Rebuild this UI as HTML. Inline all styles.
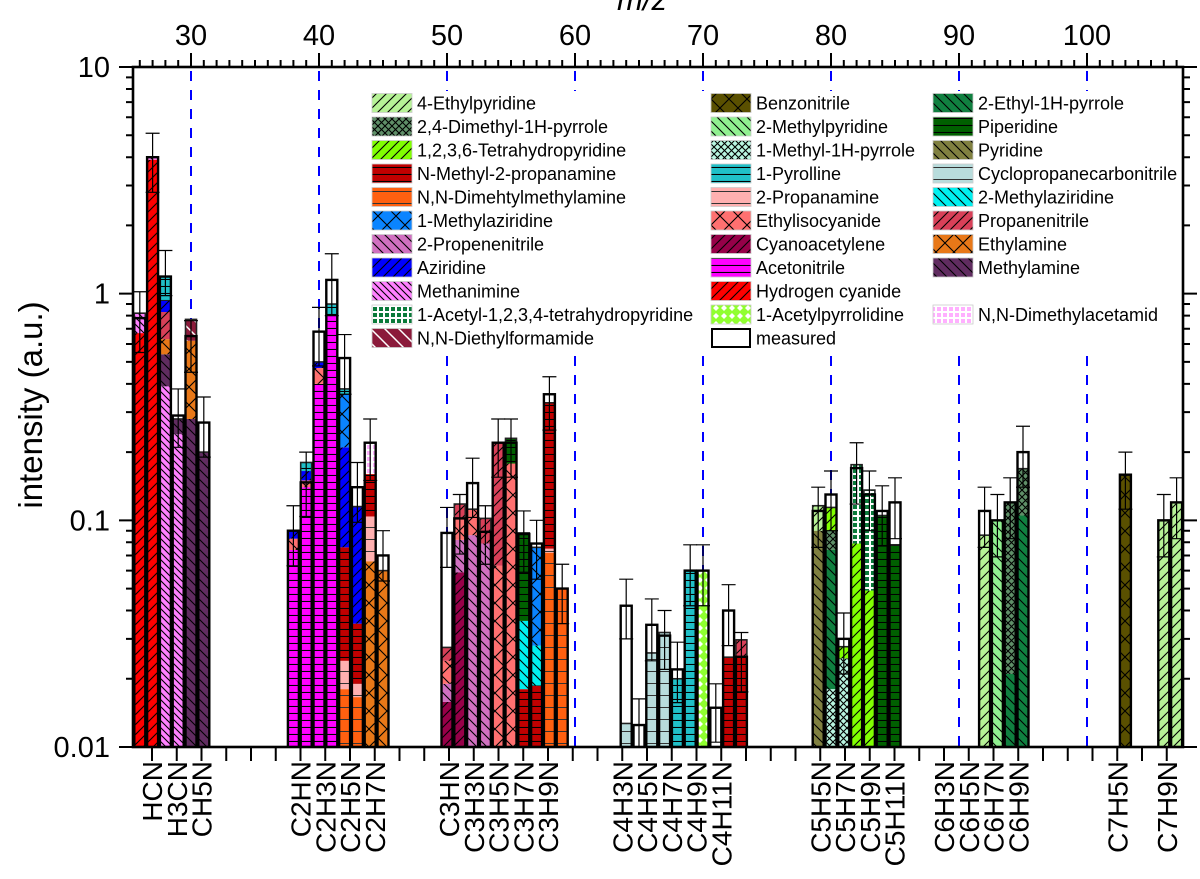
<!DOCTYPE html>
<html><head><meta charset="utf-8"><style>
html,body{margin:0;padding:0;background:#fff;}
svg{display:block;font-family:"Liberation Sans",Arial,sans-serif;}
</style></head><body>
<svg id="chart" width="1200" height="879" viewBox="0 0 1200 879" xmlns="http://www.w3.org/2000/svg">
<defs id="defs"></defs>
<g id="dashes"></g>
<g id="legend"></g>
<g id="bars"></g>
<g id="axes"></g>
</svg>
<script>
const NS="http://www.w3.org/2000/svg";
// ---- data ----
const components = ["ethpyr","dmp","thp","nm2p","ndmm","maz","pne","azi","mim","athp","def","bzn","mpy","mpyr","pyl","pna","eic","cya","acn","hcn","apy","epyr","pip","pyr","cpc","maz2","ppn","eta","mea","dma"];
const componentNames = ["4-Ethylpyridine","2,4-Dimethyl-1H-pyrrole","1,2,3,6-Tetrahydropyridine","N-Methyl-2-propanamine","N,N-Dimehtylmethylamine","1-Methylaziridine","2-Propenenitrile","Aziridine","Methanimine","1-Acetyl-1,2,3,4-tetrahydropyridine","N,N-Diethylformamide","Benzonitrile","2-Methylpyridine","1-Methyl-1H-pyrrole","1-Pyrolline","2-Propanamine","Ethylisocyanide","Cyanoacetylene","Acetonitrile","Hydrogen cyanide","1-Acetylpyrrolidine","2-Ethyl-1H-pyrrole","Piperidine","Pyridine","Cyclopropanecarbonitrile","2-Methylaziridine","Propanenitrile","Ethylamine","Methylamine","N,N-Dimethylacetamid"];
const componentColors = ["#b6f296","#5f8f68","#80ff00","#c00000","#ff6010","#0a84ff","#d070c0","#0000ff","#ff80ff","#ffffff","#8b1a3a","#5a5000","#90f090","#b8f5e0","#20c0c8","#ffb0b0","#ff7070","#960048","#ff00ff","#ff0000","#c8ff80","#108040","#006000","#808040","#b8dcdc","#00f0f0","#d84058","#e87818","#602c60","#ffffff"];
const componentPatterns = ["fwd","smallx","fwd","hl","hl1","X","back","fwd","backd","grid","backw","X","back","smallx","hl","hl1","X","fwd","hl","fwd","dots","back","hl","back","hl1","back","fwd","X","back","pgrid"];

const mz = [26,27,28,29,30,31,38,39,40,41,42,43,44,45,50,51,52,53,54,55,56,57,58,59,64,65,66,67,68,69,70,71,72,73,79,80,81,82,83,84,85,92,93,94,95,103,106,107];
const measured = [0.78,4.0,1.19,0.29,0.65,0.27,0.09,0.147,0.68,1.15,0.52,0.14,0.22,0.07,0.088,0.102,0.146,0.089,0.22,0.22,0.087,0.079,0.36,0.05,0.042,0.0125,0.0346,0.031,0.022,0.06,0.06,0.0149,0.04,0.025,0.11,0.13,0.03,0.17,0.13,0.11,0.12,0.11,0.1,0.12,0.2,0.159,0.1,0.12];
const errUpper = [1.02,5.1,1.55,0.38,0.76,0.35,0.116,0.2,0.87,1.5,0.66,0.18,0.28,0.09,0.114,0.13,0.188,0.116,0.28,0.28,0.11,0.1,0.43,0.064,0.055,0.0163,0.045,0.04,0.029,0.078,0.078,0.019,0.052,0.032,0.14,0.165,0.039,0.22,0.165,0.142,0.154,0.14,0.13,0.154,0.26,0.2,0.13,0.154];
const errLower = [0.55,2.8,0.98,0.21,0.45,0.19,0.063,0.104,0.48,0.8,0.36,0.098,0.15,0.054,0.062,0.071,0.103,0.064,0.155,0.155,0.059,0.055,0.25,0.035,0.03,0.0095,0.024,0.022,0.0157,0.042,0.042,0.0105,0.028,0.0175,0.076,0.09,0.021,0.118,0.09,0.077,0.083,0.076,0.069,0.083,0.14,0.112,0.069,0.083];
const stacks = [
 [["hcn",0.67],["mim",0.15]],
 [["hcn",3.9],["mim",0.1]],
 [["mim",0.39],["mea",0.15],["eta",0.09],["ppn",0.2],["azi",0.1],["pyl",0.26]],
 [["mim",0.24],["mea",0.04]],
 [["mea",0.28],["eta",0.34],["def",0.15]],
 [["mea",0.2]],
 [["acn",0.074],["eic",0.009],["azi",0.007]],
 [["acn",0.14],["eic",0.01],["azi",0.015],["pyl",0.015]],
 [["acn",0.4],["eic",0.07],["azi",0.03]],
 [["acn",0.8],["pyl",0.1]],
 [["ndmm",0.018],["pna",0.006],["nm2p",0.052],["azi",0.134],["maz",0.15],["pyl",0.02]],
 [["ndmm",0.0166],["pna",0.0024],["nm2p",0.016],["azi",0.08]],
 [["eta",0.066],["pna",0.038],["nm2p",0.056],["dma",0.06]],
 [["eta",0.06]],
 [["cya",0.0158],["pne",0.0032],["eic",0.005],["ppn",0.0035]],
 [["cya",0.059],["pne",0.023],["eic",0.02],["ppn",0.016]],
 [["pne",0.086],["eic",0.026]],
 [["pne",0.079],["ppn",0.023]],
 [["eic",0.063],["ppn",0.157]],
 [["eic",0.178],["pip",0.052]],
 [["nm2p",0.018],["maz2",0.018],["pip",0.052]],
 [["nm2p",0.0187],["maz2",0.0093],["maz",0.048]],
 [["ndmm",0.072],["pna",0.003],["nm2p",0.255]],
 [["ndmm",0.05]],
 [["cpc",0.0127]],
 [],
 [["cpc",0.026]],
 [["cpc",0.032]],
 [["pyl",0.02]],
 [["pyl",0.06]],
 [["apy",0.06]],
 [],
 [["nm2p",0.0249]],
 [["nm2p",0.025],["ppn",0.0047]],
 [["pyr",0.09],["ethpyr",0.026]],
 [["mpyr",0.018],["epyr",0.056],["dmp",0.016],["thp",0.024]],
 [["mpyr",0.0246],["thp",0.0031]],
 [["thp",0.079],["athp",0.097]],
 [["thp",0.049],["athp",0.087]],
 [["pip",0.105]],
 [["pip",0.078]],
 [["ethpyr",0.086]],
 [["mpy",0.1]],
 [["epyr",0.021],["dmp",0.099]],
 [["epyr",0.105],["dmp",0.064]],
 [["bzn",0.159]],
 [["ethpyr",0.1]],
 [["ethpyr",0.12]]
];
const bottomLabels = ["HCN","H3CN","CH5N","C2HN","C2H3N","C2H5N","C2H7N","C3HN","C3H3N","C3H5N","C3H7N","C3H9N","C4H3N","C4H5N","C4H7N","C4H9N","C4H11N","C5H5N","C5H7N","C5H9N","C5H11N","C6H3N","C6H5N","C6H7N","C6H9N","C7H5N","C7H9N"];
const bottomLabelSlots = [0,1,2,6,7,8,9,12,13,14,15,16,19,20,21,22,23,27,28,29,30,32,33,34,35,39,41];
const topTicks = [30,40,50,60,70,80,90,100];
const yTicks = [0.01,0.1,1,10];
const yTickLabels = ["0.01","0.1","1","10"];

// ---- geometry ----
const L=133,R=1183,T=67,B=747,DEC=(B-T)/3;
function yScale(v){return B-(Math.log10(v)+2)*DEC;}
function xScale(m){return 191+(m-30)*12.8;}
const BW=11;
function el(tag,attrs,parent){const e=document.createElementNS(NS,tag);for(const k in attrs)e.setAttribute(k,attrs[k]);if(parent)parent.appendChild(e);return e;}

// ---- patterns ----
const defs=document.getElementById('defs');
components.forEach((c,i)=>{
  const col=componentColors[i],t=componentPatterns[i];
  let s=10;
  if(t==="X")s=18; if(t==="smallx")s=7; if(t==="hl")s=7; if(t==="hl1")s=12; if(t==="grid"||t==="pgrid")s=6; if(t==="dots")s=8; if(t==="backd")s=7; if(t==="backw")s=14;
  const p=el('pattern',{id:'p-'+c,patternUnits:'userSpaceOnUse',width:s,height:s},defs);
  el('rect',{x:0,y:0,width:s,height:s,fill:col},p);
  const k={stroke:'#000','stroke-width':1.1,fill:'none'};
  if(t==="fwd"){el('path',Object.assign({d:`M0,${s} L${s},0 M-2,2 L2,-2 M${s-2},${s+2} L${s+2},${s-2}`},k),p);}
  else if(t==="back"||t==="backd"){el('path',Object.assign({d:`M0,0 L${s},${s} M${s-2},-2 L${s+2},2 M-2,${s-2} L2,${s+2}`},k),p);}
  else if(t==="backw"){el('path',{d:`M0,0 L${s},${s} M${s-2},-2 L${s+2},2 M-2,${s-2} L2,${s+2}`,stroke:'#fff','stroke-width':1.5,fill:'none'},p);}
  else if(t==="X"||t==="smallx"){el('path',Object.assign({d:`M0,0 L${s},${s} M0,${s} L${s},0`},k),p);}
  else if(t==="hl"){el('path',Object.assign({d:`M0,${s-0.5} L${s},${s-0.5}`},k),p);}
  else if(t==="hl1"){el('path',{d:`M0,${s-0.5} L${s},${s-0.5}`,stroke:'#333','stroke-width':1,fill:'none'},p);}
  else if(t==="grid"){el('rect',{x:1,y:1,width:4,height:4,fill:'#0a7a3a'},p);}
  else if(t==="pgrid"){el('rect',{x:1,y:1,width:4,height:4,fill:'#ffb0ff'},p);}
  else if(t==="dots"){el('rect',{x:0,y:0,width:s,height:s,fill:'#90ff30'},p);el('path',{d:`M4,1 L7,4 L4,7 L1,4Z`,fill:'#fff'},p);}
});

// ---- dashed guides ----
const dg=document.getElementById('dashes');
topTicks.forEach(m=>{
  const l=el('line',{x1:xScale(m),x2:xScale(m),y1:T+4,y2:B,stroke:'#0000ff','stroke-width':2,'stroke-dasharray':'10,9'},dg);
  
  
});

// ---- legend ----
const lg=document.getElementById('legend');
el('rect',{x:365,y:91,width:813,height:260,fill:'#fff'},lg);
const legendCols=[[0,1,2,3,4,5,6,7,8,9,10],[11,12,13,14,15,16,17,18,19,20],[21,22,23,24,25,26,27,28,null,29]];
const colX=[[372,417],[711,756],[933,978]];
legendCols.forEach((col,ci)=>{
  col.forEach((idx,ri)=>{
    if(idx===null)return;
    const cy=103+ri*23.5;
    const g=el('g',{},lg);
    
    
    el('rect',{x:colX[ci][0],y:cy-9.5,width:40,height:19,fill:'url(#p-'+components[idx]+')',stroke:'#ccc','stroke-width':0.8},g);
    const t=el('text',{x:colX[ci][1],y:cy+6.5,'font-size':18,fill:'#000'},g);
    t.textContent=componentNames[idx];
  });
});
{const g=el('g',{},lg);
 
 
 el('rect',{x:712,y:329,width:38,height:18,fill:'#fff',stroke:'#000','stroke-width':2},g);
 const t=el('text',{x:756,y:344.5,'font-size':18},g);t.textContent='measured';}

// ---- bars ----
const bg=document.getElementById('bars');
const cp=el('clipPath',{id:'plotclip'},defs);el('rect',{x:L,y:T,width:R-L,height:B-T},cp);
bg.setAttribute('clip-path','url(#plotclip)');
mz.forEach((m,i)=>{
  const x=xScale(m)-BW/2;
  const g=el('g',{},bg);
  
  
  const my=yScale(measured[i]);
  el('rect',{x:x,y:my,width:BW,height:Math.max(0,B-my),fill:'#fff'},g);
  let cum=0;
  stacks[i].forEach(([c,v])=>{
    const y0=yScale(Math.max(cum,0.0001)); cum+=v; const y1=yScale(cum);
    const r=el('rect',{x:x,y:y1,width:BW,height:Math.max(0,Math.min(y0,B+5)-y1),fill:'url(#p-'+c+')'},g);
    
    
  });
  if(cum>0){const sy=yScale(cum);el('rect',{x:x,y:sy,width:BW,height:B-sy+3,fill:'none',stroke:'#222','stroke-width':1.6},g);}
  el('rect',{x:x,y:my,width:BW,height:B-my+3,fill:'none',stroke:'#000','stroke-width':2.4},g);
  const cx=xScale(m),eu=yScale(errUpper[i]),el2=yScale(errLower[i]);
  const eb=el('path',{d:`M${cx},${eu} L${cx},${el2} M${cx-7},${eu} L${cx+7},${eu} M${cx-7},${el2} L${cx+7},${el2}`,stroke:'#000','stroke-width':1.2,fill:'none'},g);
  
  
});

// ---- axes ----
const ax=document.getElementById('axes');
el('rect',{x:L,y:T,width:R-L,height:B-T,fill:'none',stroke:'#000','stroke-width':2.6},ax);
let d='';
for(let m=26;m<=108;m++){const x=xScale(m);if(x<L||x>R)continue;d+=`M${x},${T} L${x},${T-(m%10===0?14:7)} `;}
for(let k=0;k<=42;k++){const x=152+k*24.75;if(x>R)continue;d+=`M${x},${B} L${x},${B+14} `;}
for(let dcd=-2;dcd<1;dcd++){for(let j=1;j<=10;j++){const v=j*Math.pow(10,dcd);const y=yScale(v);const len=(j===1||j===10)?14:7;d+=`M${L},${y} L${L-len},${y} M${R},${y} L${R+len},${y} `;}}
el('path',{d:d,stroke:'#000','stroke-width':2,fill:'none'},ax);
topTicks.forEach(m=>{const t=el('text',{x:xScale(m),y:45,'font-size':29,'text-anchor':'middle'},ax);t.textContent=String(m);
 });
yTicks.forEach((v,i)=>{const t=el('text',{x:110,y:yScale(v)+10,'font-size':29,'text-anchor':'end'},ax);t.textContent=yTickLabels[i];
 });
bottomLabels.forEach((s,i)=>{const x=152+bottomLabelSlots[i]*24.75;
 const t=el('text',{x:0,y:0,'font-size':28,'text-anchor':'end',transform:`translate(${x+10},761) rotate(-90)`},ax);t.textContent=s;
 });
{const t=el('text',{x:0,y:0,'font-size':33,'text-anchor':'middle',transform:'translate(42,405) rotate(-90)'},ax);t.textContent='intensity (a.u.)';
 }
{const t=el('text',{x:642,y:10,'font-size':31,'font-style':'italic','text-anchor':'middle'},ax);t.textContent='m/z';
 }
</script>
</body></html>
